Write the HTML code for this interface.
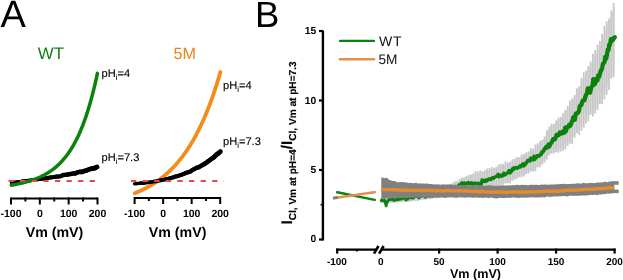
<!DOCTYPE html>
<html><head><meta charset="utf-8"><style>
html,body{margin:0;padding:0;background:#fff;}
svg{display:block;font-family:"Liberation Sans", sans-serif;text-rendering:geometricPrecision;}
.wrap{will-change:transform;}
</style></head><body><div class="wrap">
<svg width="623" height="280" viewBox="0 0 623 280">
<rect width="623" height="280" fill="#fff"/>
<text x="0.4" y="27.0" font-size="38" fill="#000">A</text>
<text x="37.7" y="59.3" font-size="16.9" fill="#117c1c">WT</text>
<text x="173.4" y="59.2" font-size="16.2" fill="#ea861c">5M</text>
<line x1="11" y1="198.5" x2="97.5" y2="198.5" stroke="#000" stroke-width="2"/>
<line x1="11.00" y1="197.5" x2="11.00" y2="204.5" stroke="#000" stroke-width="2"/>
<line x1="25.42" y1="197.5" x2="25.42" y2="201.5" stroke="#000" stroke-width="2"/>
<line x1="39.83" y1="197.5" x2="39.83" y2="204.5" stroke="#000" stroke-width="2"/>
<line x1="54.25" y1="197.5" x2="54.25" y2="201.5" stroke="#000" stroke-width="2"/>
<line x1="68.67" y1="197.5" x2="68.67" y2="204.5" stroke="#000" stroke-width="2"/>
<line x1="83.08" y1="197.5" x2="83.08" y2="201.5" stroke="#000" stroke-width="2"/>
<line x1="97.50" y1="197.5" x2="97.50" y2="204.5" stroke="#000" stroke-width="2"/>
<text x="11.00" y="217" font-size="10.5" font-weight="bold" text-anchor="middle" fill="#000">-100</text>
<text x="39.83" y="217" font-size="10.5" font-weight="bold" text-anchor="middle" fill="#000">0</text>
<text x="68.67" y="217" font-size="10.5" font-weight="bold" text-anchor="middle" fill="#000">100</text>
<text x="97.50" y="217" font-size="10.5" font-weight="bold" text-anchor="middle" fill="#000">200</text>
<line x1="134.6" y1="198.0" x2="220.2" y2="198.0" stroke="#000" stroke-width="2"/>
<line x1="134.60" y1="197.0" x2="134.60" y2="204.0" stroke="#000" stroke-width="2"/>
<line x1="148.87" y1="197.0" x2="148.87" y2="201.0" stroke="#000" stroke-width="2"/>
<line x1="163.13" y1="197.0" x2="163.13" y2="204.0" stroke="#000" stroke-width="2"/>
<line x1="177.40" y1="197.0" x2="177.40" y2="201.0" stroke="#000" stroke-width="2"/>
<line x1="191.67" y1="197.0" x2="191.67" y2="204.0" stroke="#000" stroke-width="2"/>
<line x1="205.93" y1="197.0" x2="205.93" y2="201.0" stroke="#000" stroke-width="2"/>
<line x1="220.20" y1="197.0" x2="220.20" y2="204.0" stroke="#000" stroke-width="2"/>
<text x="134.60" y="217" font-size="10.5" font-weight="bold" text-anchor="middle" fill="#000">-100</text>
<text x="163.13" y="217" font-size="10.5" font-weight="bold" text-anchor="middle" fill="#000">0</text>
<text x="191.67" y="217" font-size="10.5" font-weight="bold" text-anchor="middle" fill="#000">100</text>
<text x="220.20" y="217" font-size="10.5" font-weight="bold" text-anchor="middle" fill="#000">200</text>
<text x="54.5" y="237" font-size="14.2" font-weight="bold" text-anchor="middle" fill="#000">Vm (mV)</text>
<text x="177.6" y="237" font-size="14.2" font-weight="bold" text-anchor="middle" fill="#000">Vm (mV)</text>
<g fill="none" stroke="#000" stroke-linecap="round"><path d="M11.50,182.64 L13.64,182.43" stroke-width="3.42"/><path d="M13.64,182.43 L15.78,182.14" stroke-width="3.45"/><path d="M15.78,182.14 L17.91,181.74" stroke-width="3.49"/><path d="M17.91,181.74 L20.05,181.68" stroke-width="3.52"/><path d="M20.05,181.68 L22.19,181.38" stroke-width="3.56"/><path d="M22.19,181.38 L24.33,181.02" stroke-width="3.59"/><path d="M24.33,181.02 L26.46,180.88" stroke-width="3.63"/><path d="M26.46,180.88 L28.60,180.59" stroke-width="3.66"/><path d="M28.60,180.59 L30.74,180.32" stroke-width="3.70"/><path d="M30.74,180.32 L32.88,180.02" stroke-width="3.73"/><path d="M32.88,180.02 L35.01,179.81" stroke-width="3.77"/><path d="M35.01,179.81 L37.15,179.37" stroke-width="3.80"/><path d="M37.15,179.37 L39.29,179.16" stroke-width="3.84"/><path d="M39.29,179.16 L41.43,178.84" stroke-width="3.87"/><path d="M41.43,178.84 L43.56,178.70" stroke-width="3.91"/><path d="M43.56,178.70 L45.70,178.32" stroke-width="3.94"/><path d="M45.70,178.32 L47.84,177.96" stroke-width="3.98"/><path d="M47.84,177.96 L49.98,177.56" stroke-width="4.01"/><path d="M49.98,177.56 L52.11,177.32" stroke-width="4.05"/><path d="M52.11,177.32 L54.25,177.02" stroke-width="4.08"/><path d="M54.25,177.02 L56.39,176.62" stroke-width="4.12"/><path d="M56.39,176.62 L58.53,176.52" stroke-width="4.15"/><path d="M58.53,176.52 L60.66,176.10" stroke-width="4.19"/><path d="M60.66,176.10 L62.80,175.05" stroke-width="4.22"/><path d="M62.80,175.05 L64.94,174.79" stroke-width="4.26"/><path d="M64.94,174.79 L67.08,174.70" stroke-width="4.29"/><path d="M67.08,174.70 L69.21,174.22" stroke-width="4.33"/><path d="M69.21,174.22 L71.35,173.91" stroke-width="4.36"/><path d="M71.35,173.91 L73.49,173.46" stroke-width="4.40"/><path d="M73.49,173.46 L75.62,173.38" stroke-width="4.43"/><path d="M75.62,173.38 L77.76,172.23" stroke-width="4.47"/><path d="M77.76,172.23 L79.90,171.88" stroke-width="4.50"/><path d="M79.90,171.88 L82.04,171.89" stroke-width="4.54"/><path d="M82.04,171.89 L84.18,171.06" stroke-width="4.57"/><path d="M84.18,171.06 L86.31,170.51" stroke-width="4.61"/><path d="M86.31,170.51 L88.45,169.68" stroke-width="4.64"/><path d="M88.45,169.68 L90.59,168.82" stroke-width="4.68"/><path d="M90.59,168.82 L92.73,168.64" stroke-width="4.71"/><path d="M92.73,168.64 L94.86,168.01" stroke-width="4.75"/><path d="M94.86,168.01 L97.00,167.03" stroke-width="4.78"/></g>
<path d="M11.30,185.26 L11.87,185.15 L12.45,185.05 L13.02,184.94 L13.60,184.83 L14.17,184.72 L14.74,184.61 L15.32,184.50 L15.89,184.38 L16.46,184.27 L17.04,184.15 L17.61,184.03 L18.19,183.90 L18.76,183.78 L19.33,183.65 L19.91,183.52 L20.48,183.39 L21.06,183.26 L21.63,183.12 L22.20,182.98 L22.78,182.84 L23.35,182.70 L23.92,182.55 L24.50,182.40 L25.07,182.25 L25.65,182.09 L26.22,181.93 L26.79,181.77 L27.37,181.61 L27.94,181.44 L28.51,181.27 L29.09,181.10 L29.66,180.92 L30.24,180.74 L30.81,180.55 L31.38,180.36 L31.96,180.17 L32.53,179.97 L33.11,179.77 L33.68,179.57 L34.25,179.36 L34.83,179.14 L35.40,178.93 L35.97,178.70 L36.55,178.48 L37.12,178.24 L37.71,178.00 L38.29,177.76 L38.87,177.51 L39.45,177.26 L40.03,177.00 L40.62,176.74 L41.20,176.46 L41.78,176.19 L42.36,175.90 L42.94,175.61 L43.53,175.32 L44.11,175.01 L44.69,174.70 L45.27,174.38 L45.85,174.05 L46.43,173.72 L47.02,173.38 L47.60,173.03 L48.18,172.67 L48.76,172.30 L49.34,171.92 L49.93,171.54 L50.51,171.14 L51.09,170.74 L51.67,170.32 L52.25,169.90 L52.84,169.47 L53.42,169.02 L54.00,168.57 L54.58,168.10 L55.16,167.62 L55.74,167.13 L56.33,166.63 L56.91,166.12 L57.49,165.60 L58.07,165.06 L58.65,164.51 L59.24,163.95 L59.82,163.37 L60.40,162.78 L60.98,162.18 L61.56,161.56 L62.15,160.93 L62.73,160.28 L63.31,159.61 L63.89,158.93 L64.47,158.24 L65.05,157.52 L65.64,156.79 L66.22,156.05 L66.80,155.28 L67.38,154.50 L67.96,153.70 L68.55,152.87 L69.13,152.03 L69.71,151.17 L70.29,150.29 L70.87,149.39 L71.46,148.46 L72.04,147.51 L72.62,146.55 L73.20,145.55 L73.78,144.54 L74.36,143.50 L74.95,142.43 L75.53,141.34 L76.11,140.22 L76.69,139.08 L77.27,137.91 L77.86,136.71 L78.44,135.48 L79.02,134.22 L79.60,132.94 L80.18,131.62 L80.76,130.27 L81.33,128.89 L81.91,127.47 L82.48,126.02 L83.05,124.54 L83.63,123.02 L84.20,121.47 L84.78,119.87 L85.35,118.24 L85.92,116.57 L86.50,114.86 L87.07,113.11 L87.64,111.32 L88.22,109.49 L88.79,107.61 L89.37,105.69 L89.94,103.72 L90.51,101.70 L91.09,99.63 L91.66,97.52 L92.24,95.35 L92.81,93.14 L93.38,90.87 L93.96,88.54 L94.53,86.16 L95.10,83.73 L95.68,81.23 L96.25,78.68 L96.83,76.06 L97.40,73.38" fill="none" stroke="#0b820b" stroke-width="3.5" stroke-linecap="round"/>
<line x1="8.5" y1="180.9" x2="100" y2="180.9" stroke="#e84a4a" stroke-width="2" stroke-dasharray="5.3 6.3"/>
<path d="M134.80,193.17 L135.37,192.94 L135.95,192.71 L136.52,192.47 L137.10,192.24 L137.67,191.99 L138.25,191.75 L138.82,191.50 L139.40,191.25 L139.97,190.99 L140.54,190.73 L141.12,190.46 L141.69,190.20 L142.27,189.92 L142.84,189.65 L143.42,189.37 L143.99,189.08 L144.57,188.79 L145.14,188.50 L145.72,188.20 L146.29,187.90 L146.86,187.60 L147.44,187.29 L148.01,186.97 L148.59,186.65 L149.16,186.33 L149.74,186.00 L150.31,185.66 L150.89,185.32 L151.46,184.98 L152.03,184.63 L152.61,184.28 L153.18,183.92 L153.76,183.55 L154.33,183.19 L154.91,182.81 L155.48,182.43 L156.06,182.04 L156.63,181.65 L157.21,181.25 L157.78,180.85 L158.35,180.44 L158.93,180.02 L159.50,179.60 L160.08,179.18 L160.65,178.74 L161.23,178.30 L161.80,177.85 L162.38,177.40 L162.95,176.94 L163.52,176.47 L164.10,176.00 L164.67,175.52 L165.25,175.03 L165.82,174.54 L166.40,174.03 L166.97,173.52 L167.55,173.01 L168.12,172.48 L168.70,171.95 L169.27,171.41 L169.84,170.86 L170.42,170.31 L170.99,169.74 L171.57,169.17 L172.14,168.59 L172.72,168.00 L173.29,167.40 L173.87,166.79 L174.44,166.18 L175.01,165.55 L175.59,164.92 L176.16,164.27 L176.74,163.62 L177.31,162.96 L177.89,162.29 L178.46,161.61 L179.04,160.91 L179.61,160.21 L180.19,159.50 L180.76,158.78 L181.33,158.04 L181.91,157.30 L182.48,156.54 L183.06,155.78 L183.63,155.00 L184.21,154.21 L184.78,153.41 L185.36,152.60 L185.93,151.77 L186.50,150.93 L187.08,150.09 L187.65,149.22 L188.23,148.35 L188.80,147.46 L189.38,146.56 L189.95,145.65 L190.53,144.73 L191.10,143.79 L191.68,142.83 L192.25,141.86 L192.82,140.88 L193.40,139.89 L193.97,138.87 L194.55,137.85 L195.12,136.81 L195.70,135.75 L196.27,134.68 L196.85,133.59 L197.42,132.49 L197.99,131.37 L198.57,130.23 L199.14,129.08 L199.72,127.91 L200.29,126.72 L200.87,125.52 L201.44,124.30 L202.02,123.06 L202.59,121.80 L203.17,120.52 L203.74,119.23 L204.31,117.91 L204.89,116.58 L205.46,115.23 L206.04,113.85 L206.61,112.46 L207.19,111.05 L207.76,109.61 L208.34,108.16 L208.91,106.68 L209.48,105.18 L210.06,103.66 L210.63,102.12 L211.21,100.55 L211.78,98.96 L212.36,97.35 L212.93,95.71 L213.51,94.05 L214.08,92.37 L214.66,90.66 L215.23,88.93 L215.80,87.17 L216.38,85.38 L216.95,83.57 L217.53,81.73 L218.10,79.87 L218.68,77.98 L219.25,76.06 L219.83,74.11 L220.40,72.13" fill="none" stroke="#f48c1c" stroke-width="3.8" stroke-linecap="round"/>
<g fill="none" stroke="#000" stroke-linecap="round"><path d="M134.50,183.91 L136.65,183.66" stroke-width="3.32"/><path d="M136.65,183.66 L138.79,183.45" stroke-width="3.36"/><path d="M138.79,183.45 L140.94,183.05" stroke-width="3.39"/><path d="M140.94,183.05 L143.09,183.19" stroke-width="3.43"/><path d="M143.09,183.19 L145.24,182.88" stroke-width="3.47"/><path d="M145.24,182.88 L147.38,182.46" stroke-width="3.51"/><path d="M147.38,182.46 L149.53,182.29" stroke-width="3.54"/><path d="M149.53,182.29 L151.68,181.92" stroke-width="3.58"/><path d="M151.68,181.92 L153.83,181.49" stroke-width="3.62"/><path d="M153.83,181.49 L155.97,181.32" stroke-width="3.66"/><path d="M155.97,181.32 L158.12,180.78" stroke-width="3.69"/><path d="M158.12,180.78 L160.27,180.37" stroke-width="3.73"/><path d="M160.27,180.37 L162.42,179.88" stroke-width="3.77"/><path d="M162.42,179.88 L164.56,179.58" stroke-width="3.81"/><path d="M164.56,179.58 L166.71,179.01" stroke-width="3.84"/><path d="M166.71,179.01 L168.86,178.58" stroke-width="3.88"/><path d="M168.86,178.58 L171.01,177.86" stroke-width="3.92"/><path d="M171.01,177.86 L173.16,177.38" stroke-width="3.96"/><path d="M173.16,177.38 L175.30,176.60" stroke-width="3.99"/><path d="M175.30,176.60 L177.45,176.21" stroke-width="4.03"/><path d="M177.45,176.21 L179.60,175.40" stroke-width="4.07"/><path d="M179.60,175.40 L181.75,174.68" stroke-width="4.11"/><path d="M181.75,174.68 L183.89,173.91" stroke-width="4.14"/><path d="M183.89,173.91 L186.04,172.83" stroke-width="4.18"/><path d="M186.04,172.83 L188.19,172.27" stroke-width="4.22"/><path d="M188.19,172.27 L190.34,171.59" stroke-width="4.26"/><path d="M190.34,171.59 L192.48,169.91" stroke-width="4.29"/><path d="M192.48,169.91 L194.63,168.85" stroke-width="4.33"/><path d="M194.63,168.85 L196.78,167.79" stroke-width="4.37"/><path d="M196.78,167.79 L198.93,167.12" stroke-width="4.41"/><path d="M198.93,167.12 L201.07,165.76" stroke-width="4.44"/><path d="M201.07,165.76 L203.22,164.69" stroke-width="4.48"/><path d="M203.22,164.69 L205.37,163.27" stroke-width="4.52"/><path d="M205.37,163.27 L207.51,161.75" stroke-width="4.56"/><path d="M207.51,161.75 L209.66,160.27" stroke-width="4.59"/><path d="M209.66,160.27 L211.81,158.60" stroke-width="4.63"/><path d="M211.81,158.60 L213.96,157.20" stroke-width="4.67"/><path d="M213.96,157.20 L216.11,154.99" stroke-width="4.71"/><path d="M216.11,154.99 L218.25,153.33" stroke-width="4.74"/><path d="M218.25,153.33 L220.40,151.58" stroke-width="4.78"/></g>
<line x1="131" y1="181.0" x2="224" y2="181.0" stroke="#e84a4a" stroke-width="2" stroke-dasharray="5.3 6.3"/>
<text x="101.6" y="76.8" font-size="11.1" fill="#000" stroke="#000" stroke-width="0.12">pH<tspan font-size="7.6" dy="3.0">i</tspan><tspan dy="-3.0">=4</tspan></text>
<text x="101.6" y="160.8" font-size="11.1" fill="#000" stroke="#000" stroke-width="0.12">pH<tspan font-size="7.6" dy="3.0">i</tspan><tspan dy="-3.0">=7.3</tspan></text>
<text x="223.1" y="89.0" font-size="11.1" fill="#000" stroke="#000" stroke-width="0.12">pH<tspan font-size="7.6" dy="3.0">i</tspan><tspan dy="-3.0">=4</tspan></text>
<text x="223.1" y="145.0" font-size="11.1" fill="#000" stroke="#000" stroke-width="0.12">pH<tspan font-size="7.6" dy="3.0">i</tspan><tspan dy="-3.0">=7.3</tspan></text>
<text x="255" y="26.9" font-size="36.5" fill="#000">B</text>
<line x1="322.9" y1="30.5" x2="322.9" y2="240.5" stroke="#000" stroke-width="2.4"/>
<line x1="319" y1="239.50" x2="322.9" y2="239.50" stroke="#000" stroke-width="2.2"/>
<text x="316.3" y="242.10" font-size="10.3" font-weight="bold" text-anchor="end" fill="#000">0</text>
<line x1="319" y1="170.00" x2="322.9" y2="170.00" stroke="#000" stroke-width="2.2"/>
<text x="316.3" y="173.20" font-size="10.3" font-weight="bold" text-anchor="end" fill="#000">5</text>
<line x1="319" y1="100.50" x2="322.9" y2="100.50" stroke="#000" stroke-width="2.2"/>
<text x="316.3" y="104.10" font-size="10.3" font-weight="bold" text-anchor="end" fill="#000">10</text>
<line x1="319" y1="31.00" x2="322.9" y2="31.00" stroke="#000" stroke-width="2.2"/>
<text x="316.3" y="34.20" font-size="10.3" font-weight="bold" text-anchor="end" fill="#000">15</text>
<g transform="translate(292.3,224.6) rotate(-90)"><text x="0" y="0" font-weight="bold" fill="#000" stroke="#000" stroke-width="0.15" font-size="15.4">I<tspan font-size="10.1" dy="3.2">Cl, Vm at pH=4</tspan><tspan font-size="15.4" dy="-3.2">/I</tspan><tspan font-size="10.1" dy="3.2">Cl, Vm at pH=7.3</tspan></text></g>
<line x1="336.1" y1="249.6" x2="376" y2="249.6" stroke="#000" stroke-width="2.4"/>
<line x1="381" y1="249.6" x2="615.6" y2="249.6" stroke="#000" stroke-width="2.4"/>
<line x1="337.2" y1="248.6" x2="337.2" y2="253.6" stroke="#000" stroke-width="2.2"/>
<line x1="356.8" y1="249.6" x2="356.8" y2="251.5" stroke="#000" stroke-width="2"/>
<line x1="439.10" y1="248.6" x2="439.10" y2="253.6" stroke="#000" stroke-width="2.2"/>
<line x1="497.60" y1="248.6" x2="497.60" y2="253.6" stroke="#000" stroke-width="2.2"/>
<line x1="556.10" y1="248.6" x2="556.10" y2="253.6" stroke="#000" stroke-width="2.2"/>
<line x1="614.60" y1="248.6" x2="614.60" y2="253.6" stroke="#000" stroke-width="2.2"/>
<line x1="374.0" y1="253.6" x2="378.5" y2="246.0" stroke="#000" stroke-width="2.6"/>
<line x1="379.1" y1="253.6" x2="383.6" y2="246.0" stroke="#000" stroke-width="2.6"/>
<text x="336.9" y="264.5" font-size="10" font-weight="bold" text-anchor="middle" fill="#000">-100</text>
<text x="380.8" y="264.5" font-size="10" font-weight="bold" text-anchor="middle" fill="#000">0</text>
<text x="439" y="264.5" font-size="10" font-weight="bold" text-anchor="middle" fill="#000">50</text>
<text x="497.5" y="264.5" font-size="10" font-weight="bold" text-anchor="middle" fill="#000">100</text>
<text x="556" y="264.5" font-size="10" font-weight="bold" text-anchor="middle" fill="#000">150</text>
<text x="614.5" y="264.5" font-size="10" font-weight="bold" text-anchor="middle" fill="#000">200</text>
<text x="475.5" y="277.5" font-size="12.6" font-weight="bold" text-anchor="middle" fill="#000">Vm (mV)</text>
<polygon points="381.30,197.74 382.10,197.70 382.90,197.66 383.70,197.62 384.50,197.58 385.30,197.53 386.10,197.48 386.90,197.42 387.70,197.36 388.50,197.30 389.30,197.24 390.10,197.18 390.90,197.11 391.70,197.04 392.50,196.97 393.30,196.89 394.10,196.82 394.90,196.74 395.70,196.66 396.50,196.58 397.30,196.49 398.10,196.41 398.90,196.32 399.70,196.23 400.50,196.14 401.30,196.05 402.10,195.95 402.90,195.85 403.70,195.75 404.50,195.64 405.30,195.54 406.10,195.42 406.90,195.31 407.70,195.19 408.50,195.08 409.30,194.95 410.10,194.83 410.90,194.70 411.70,194.57 412.50,194.44 413.30,194.31 414.10,194.17 414.90,194.03 415.70,193.89 416.50,193.75 417.30,193.60 418.10,193.46 418.90,193.31 419.70,193.16 420.50,193.00 421.30,192.84 422.10,192.68 422.90,192.51 423.70,192.33 424.50,192.15 425.30,191.97 426.10,191.78 426.90,191.58 427.70,191.38 428.50,191.18 429.30,190.97 430.10,190.76 430.90,190.54 431.70,190.32 432.50,190.10 433.30,189.87 434.10,189.64 434.90,189.40 435.70,189.17 436.50,188.92 437.30,188.68 438.10,188.43 438.90,188.19 439.70,187.93 440.50,187.68 441.30,187.42 442.10,187.17 442.90,186.91 443.70,186.65 444.50,186.38 445.30,186.12 446.10,185.85 446.90,185.58 447.70,185.30 448.50,185.02 449.30,184.74 450.10,184.45 450.90,184.16 451.70,183.86 452.50,183.55 453.30,183.24 454.10,182.92 454.90,182.59 455.70,182.26 456.50,181.92 457.30,181.57 458.10,181.19 458.90,180.77 459.70,180.34 460.50,179.89 461.30,179.43 462.10,178.98 462.90,178.54 463.70,178.12 464.50,177.71 465.30,177.33 466.10,176.98 466.90,176.66 467.70,176.34 468.50,176.04 469.30,175.74 470.10,175.44 470.90,175.16 471.70,174.88 472.50,174.62 473.30,174.36 474.10,174.10 474.90,173.86 475.70,173.62 476.50,173.39 477.30,173.17 478.10,172.95 478.90,172.75 479.70,172.55 480.50,172.35 481.30,172.16 482.10,171.95 482.90,171.75 483.70,171.54 484.50,171.32 485.30,171.11 486.10,170.88 486.90,170.66 487.70,170.43 488.50,170.20 489.30,169.96 490.10,169.72 490.90,169.47 491.70,169.23 492.50,168.98 493.30,168.72 494.10,168.46 494.90,168.20 495.70,167.93 496.50,167.67 497.30,167.39 498.10,167.12 498.90,166.84 499.70,166.56 500.50,166.27 501.30,165.98 502.10,165.68 502.90,165.37 503.70,165.05 504.50,164.73 505.30,164.40 506.10,164.07 506.90,163.73 507.70,163.38 508.50,163.02 509.30,162.66 510.10,162.29 510.90,161.92 511.70,161.54 512.50,161.15 513.30,160.76 514.10,160.36 514.90,159.96 515.70,159.56 516.50,159.14 517.30,158.72 518.10,158.30 518.90,157.88 519.70,157.44 520.50,157.01 521.30,156.57 522.10,156.14 522.90,155.70 523.70,155.26 524.50,154.82 525.30,154.37 526.10,153.91 526.90,153.45 527.70,152.97 528.50,152.49 529.30,152.00 530.10,151.49 530.90,150.97 531.70,150.43 532.50,149.88 533.30,149.31 534.10,148.72 534.90,148.11 535.70,147.48 536.50,146.83 537.30,146.15 538.10,145.45 538.90,144.72 539.70,143.97 540.50,143.15 541.30,142.19 542.10,141.08 542.90,139.87 543.70,138.57 544.50,137.22 545.30,135.84 546.10,134.46 546.90,133.10 547.70,131.80 548.50,130.57 549.30,129.46 550.10,128.48 550.90,127.61 551.70,126.79 552.50,126.03 553.30,125.31 554.10,124.62 554.90,123.95 555.70,123.28 556.50,122.59 557.30,121.87 558.10,121.11 558.90,120.30 559.70,119.43 560.50,118.48 561.30,117.49 562.10,116.45 562.90,115.38 563.70,114.26 564.50,113.11 565.30,111.92 566.10,110.70 566.90,109.45 567.70,108.17 568.50,106.86 569.30,105.52 570.10,104.17 570.90,102.79 571.70,101.39 572.50,99.98 573.30,98.55 574.10,97.11 574.90,95.65 575.70,94.19 576.50,92.72 577.30,91.24 578.10,89.76 578.90,88.27 579.70,86.78 580.50,85.28 581.30,83.74 582.10,82.09 582.90,80.36 583.70,78.59 584.50,76.81 585.30,75.05 586.10,73.36 586.90,71.75 587.70,70.21 588.50,68.73 589.30,67.29 590.10,65.87 590.90,64.46 591.70,63.04 592.50,61.59 593.30,60.12 594.10,58.61 594.90,57.07 595.70,55.48 596.50,53.85 597.30,52.15 598.10,50.40 598.90,48.58 599.70,46.68 600.50,44.59 601.30,42.05 602.10,39.42 602.90,37.07 603.70,34.79 604.50,32.54 605.30,30.31 606.10,28.12 606.90,25.96 607.70,23.84 608.50,21.76 609.30,19.72 610.10,17.73 610.90,15.79 611.70,13.90 612.50,12.07 613.30,10.30 614.10,8.59 614.90,6.95 614.90,69.83 614.10,71.28 613.30,72.77 612.50,74.30 611.70,75.87 610.90,77.47 610.10,79.10 609.30,80.76 608.50,82.45 607.70,84.16 606.90,85.90 606.10,87.66 605.30,89.44 604.50,91.23 603.70,93.05 602.90,94.87 602.10,96.77 601.30,98.92 600.50,100.99 599.70,102.59 598.90,103.94 598.10,105.14 597.30,106.23 596.50,107.21 595.70,108.10 594.90,108.93 594.10,109.71 593.30,110.46 592.50,111.20 591.70,111.95 590.90,112.72 590.10,113.54 589.30,114.41 588.50,115.33 587.70,116.31 586.90,117.36 586.10,118.49 585.30,119.73 584.50,121.04 583.70,122.38 582.90,123.72 582.10,125.02 581.30,126.25 580.50,127.37 579.70,128.45 578.90,129.52 578.10,130.58 577.30,131.63 576.50,132.67 575.70,133.69 574.90,134.69 574.10,135.68 573.30,136.64 572.50,137.59 571.70,138.51 570.90,139.41 570.10,140.28 569.30,141.13 568.50,141.96 567.70,142.76 566.90,143.53 566.10,144.27 565.30,144.99 564.50,145.67 563.70,146.33 562.90,146.95 562.10,147.54 561.30,148.09 560.50,148.61 559.70,149.10 558.90,149.52 558.10,149.89 557.30,150.22 556.50,150.53 555.70,150.81 554.90,151.10 554.10,151.39 553.30,151.70 552.50,152.03 551.70,152.41 550.90,152.84 550.10,153.34 549.30,153.94 548.50,154.69 547.70,155.56 546.90,156.52 546.10,157.54 545.30,158.61 544.50,159.70 543.70,160.78 542.90,161.82 542.10,162.81 541.30,163.71 540.50,164.50 539.70,165.16 538.90,165.78 538.10,166.37 537.30,166.95 536.50,167.50 535.70,168.03 534.90,168.55 534.10,169.05 533.30,169.53 532.50,170.00 531.70,170.45 530.90,170.89 530.10,171.32 529.30,171.75 528.50,172.16 527.70,172.57 526.90,172.96 526.10,173.36 525.30,173.75 524.50,174.14 523.70,174.52 522.90,174.91 522.10,175.29 521.30,175.68 520.50,176.07 519.70,176.47 518.90,176.86 518.10,177.25 517.30,177.64 516.50,178.03 515.70,178.41 514.90,178.79 514.10,179.16 513.30,179.54 512.50,179.90 511.70,180.27 510.90,180.63 510.10,180.98 509.30,181.33 508.50,181.67 507.70,182.01 506.90,182.34 506.10,182.67 505.30,182.99 504.50,183.31 503.70,183.62 502.90,183.92 502.10,184.21 501.30,184.50 500.50,184.78 499.70,185.05 498.90,185.32 498.10,185.58 497.30,185.84 496.50,186.10 495.70,186.36 494.90,186.60 494.10,186.85 493.30,187.09 492.50,187.33 491.70,187.56 490.90,187.78 490.10,188.01 489.30,188.22 488.50,188.43 487.70,188.64 486.90,188.84 486.10,189.04 485.30,189.23 484.50,189.41 483.70,189.59 482.90,189.76 482.10,189.92 481.30,190.08 480.50,190.23 479.70,190.38 478.90,190.49 478.10,190.57 477.30,190.63 476.50,190.66 475.70,190.67 474.90,190.67 474.10,190.65 473.30,190.62 472.50,190.59 471.70,190.56 470.90,190.52 470.10,190.50 469.30,190.48 468.50,190.47 467.70,190.48 466.90,190.51 466.10,190.57 465.30,190.66 464.50,190.81 463.70,191.02 462.90,191.27 462.10,191.55 461.30,191.84 460.50,192.14 459.70,192.44 458.90,192.72 458.10,192.98 457.30,193.22 456.50,193.42 455.70,193.62 454.90,193.80 454.10,193.99 453.30,194.16 452.50,194.34 451.70,194.50 450.90,194.67 450.10,194.83 449.30,194.99 448.50,195.14 447.70,195.29 446.90,195.44 446.10,195.58 445.30,195.73 444.50,195.87 443.70,196.02 442.90,196.16 442.10,196.30 441.30,196.45 440.50,196.59 439.70,196.74 438.90,196.88 438.10,197.03 437.30,197.17 436.50,197.31 435.70,197.45 434.90,197.59 434.10,197.73 433.30,197.87 432.50,198.01 431.70,198.15 430.90,198.28 430.10,198.41 429.30,198.55 428.50,198.67 427.70,198.80 426.90,198.93 426.10,199.05 425.30,199.17 424.50,199.29 423.70,199.40 422.90,199.52 422.10,199.63 421.30,199.73 420.50,199.84 419.70,199.94 418.90,200.04 418.10,200.13 417.30,200.23 416.50,200.32 415.70,200.41 414.90,200.50 414.10,200.59 413.30,200.67 412.50,200.76 411.70,200.84 410.90,200.92 410.10,200.99 409.30,201.07 408.50,201.14 407.70,201.21 406.90,201.28 406.10,201.35 405.30,201.42 404.50,201.48 403.70,201.54 402.90,201.60 402.10,201.66 401.30,201.72 400.50,201.77 399.70,201.82 398.90,201.87 398.10,201.92 397.30,201.97 396.50,202.02 395.70,202.07 394.90,202.12 394.10,202.17 393.30,202.22 392.50,202.27 391.70,202.31 390.90,202.36 390.10,202.40 389.30,202.45 388.50,202.49 387.70,202.53 386.90,202.58 386.10,202.62 385.30,202.66 384.50,202.70 383.70,202.73 382.90,202.77 382.10,202.80 381.30,202.84" fill="#e4e4e4"/>
<path d="M381.30,197.55V203.29 M383.60,197.10V202.85 M385.90,197.29V203.39 M388.20,197.18V202.69 M390.50,196.35V202.93 M392.80,196.57V202.73 M395.10,196.12V202.42 M397.40,196.28V202.68 M399.70,195.60V202.32 M402.00,195.20V202.21 M404.30,194.76V201.77 M406.60,194.78V201.82 M408.90,194.60V201.72 M411.20,194.34V201.70 M413.50,193.38V200.88 M415.80,193.33V200.77 M418.10,193.26V201.09 M420.40,192.49V200.11 M422.70,191.76V199.87 M425.00,191.00V199.56 M427.30,191.32V199.20 M429.60,190.39V199.13 M431.90,189.12V199.02 M434.20,189.08V197.88 M436.50,188.59V198.64 M438.80,187.50V197.90 M441.10,187.26V196.69 M443.40,185.47V197.01 M445.70,185.39V196.26 M448.00,184.90V195.66 M450.30,184.16V196.21 M452.60,182.61V194.70 M454.90,181.23V194.31 M457.20,181.31V194.43 M459.50,178.71V192.77 M461.80,177.50V192.22 M464.10,177.51V191.17 M466.40,176.05V192.19 M468.70,174.69V192.48 M471.00,174.38V191.49 M473.30,173.48V193.16 M475.60,171.09V191.79 M477.90,171.62V191.68 M480.20,170.23V190.70 M482.50,171.36V191.18 M484.80,170.30V191.82 M487.10,168.38V190.51 M489.40,167.90V190.30 M491.70,166.88V190.28 M494.00,167.78V188.83 M496.30,167.03V187.64 M498.60,164.57V188.08 M500.90,163.81V185.06 M503.20,163.98V184.56 M505.50,161.37V183.62 M507.80,162.36V183.24 M510.10,161.80V183.61 M512.40,159.19V180.70 M514.70,158.41V179.42 M517.00,156.92V178.74 M519.30,157.22V177.31 M521.60,154.57V177.59 M523.90,153.93V176.52 M526.20,152.54V174.01 M528.50,151.27V173.60 M530.80,148.12V171.62 M533.10,148.85V171.60 M535.40,144.57V171.22 M537.70,143.37V167.23 M540.00,140.88V167.35 M542.30,139.96V164.38 M544.60,136.49V162.51 M546.90,130.31V159.59 M549.20,126.54V155.38 M551.50,123.69V153.86 M553.80,123.89V153.44 M556.10,120.50V152.28 M558.40,117.83V152.73 M560.70,116.68V151.68 M563.00,113.08V150.71 M565.30,109.98V149.30 M567.60,105.69V146.16 M569.90,100.45V143.77 M572.20,98.49V143.77 M574.50,95.17V137.65 M576.80,88.35V133.15 M579.10,86.26V134.65 M581.40,78.08V130.68 M583.70,72.24V127.82 M586.00,70.87V123.54 M588.30,66.04V121.31 M590.60,61.54V114.91 M592.90,53.79V116.59 M595.20,50.08V113.67 M597.50,44.77V110.35 M599.80,40.98V103.90 M602.10,33.92V104.37 M604.40,25.94V99.14 M606.70,21.25V94.84 M609.00,18.47V89.99 M611.30,10.51V78.55 M613.60,3.08V77.33" stroke="#c8c8c8" stroke-width="1.8" fill="none"/>
<g fill="none" stroke="#0b820b" stroke-linejoin="round" stroke-linecap="round"><path d="M381.30,200.59 L382.10,199.85 L382.90,200.81 L383.70,200.98 L384.50,200.35 L385.30,202.29" stroke-width="2.80"/><path d="M385.30,202.29 L386.10,205.95 L386.90,203.10 L387.70,200.79 L388.50,199.80 L389.30,199.82" stroke-width="2.80"/><path d="M389.30,199.82 L390.10,198.66 L390.90,199.74 L391.70,199.10 L392.50,198.50 L393.30,199.55" stroke-width="2.80"/><path d="M393.30,199.55 L394.10,200.51 L394.90,200.09 L395.70,199.54 L396.50,200.01 L397.30,199.23" stroke-width="2.80"/><path d="M397.30,199.23 L398.10,199.48 L398.90,199.48 L399.70,198.29 L400.50,199.15 L401.30,198.86" stroke-width="2.81"/><path d="M401.30,198.86 L402.10,198.65 L402.90,198.06 L403.70,197.47 L404.50,197.94 L405.30,199.30" stroke-width="2.82"/><path d="M405.30,199.30 L406.10,200.02 L406.90,199.19 L407.70,199.11 L408.50,197.94 L409.30,196.75" stroke-width="2.82"/><path d="M409.30,196.75 L410.10,197.52 L410.90,198.02 L411.70,197.48 L412.50,197.79 L413.30,198.00" stroke-width="2.83"/><path d="M413.30,198.00 L414.10,196.72 L414.90,195.95 L415.70,196.30 L416.50,196.43 L417.30,196.40" stroke-width="2.84"/><path d="M417.30,196.40 L418.10,197.29 L418.90,197.98 L419.70,196.10 L420.50,196.45 L421.30,196.55" stroke-width="2.86"/><path d="M421.30,196.55 L422.10,195.84 L422.90,195.78 L423.70,195.23 L424.50,196.18 L425.30,197.17" stroke-width="2.87"/><path d="M425.30,197.17 L426.10,196.27 L426.90,195.15 L427.70,196.08 L428.50,196.11 L429.30,195.49" stroke-width="2.88"/><path d="M429.30,195.49 L430.10,195.18 L430.90,196.05 L431.70,193.90 L432.50,194.73 L433.30,194.42" stroke-width="2.90"/><path d="M433.30,194.42 L434.10,193.64 L434.90,194.91 L435.70,194.33 L436.50,192.55 L437.30,193.11" stroke-width="2.92"/><path d="M437.30,193.11 L438.10,192.36 L438.90,190.92 L439.70,191.01 L440.50,191.04 L441.30,190.85" stroke-width="2.94"/><path d="M441.30,190.85 L442.10,190.44 L442.90,189.91 L443.70,190.23 L444.50,190.37 L445.30,191.05" stroke-width="2.96"/><path d="M445.30,191.05 L446.10,190.74 L446.90,190.74 L447.70,190.25 L448.50,188.96 L449.30,188.63" stroke-width="2.98"/><path d="M449.30,188.63 L450.10,190.21 L450.90,188.81 L451.70,188.77 L452.50,189.19 L453.30,187.62" stroke-width="3.00"/><path d="M453.30,187.62 L454.10,188.25 L454.90,188.02 L455.70,188.04 L456.50,186.95 L457.30,187.85" stroke-width="3.03"/><path d="M457.30,187.85 L458.10,186.46 L458.90,184.78 L459.70,185.60 L460.50,184.47 L461.30,183.50" stroke-width="3.06"/><path d="M461.30,183.50 L462.10,182.63 L462.90,184.43 L463.70,186.12 L464.50,182.90 L465.30,183.83" stroke-width="3.09"/><path d="M465.30,183.83 L466.10,183.07 L466.90,183.53 L467.70,182.67 L468.50,182.40 L469.30,183.62" stroke-width="3.12"/><path d="M469.30,183.62 L470.10,183.26 L470.90,183.67 L471.70,182.62 L472.50,183.90 L473.30,185.19" stroke-width="3.13"/><path d="M473.30,185.19 L474.10,183.16 L474.90,182.85 L475.70,183.15 L476.50,183.56 L477.30,184.00" stroke-width="3.14"/><path d="M477.30,184.00 L478.10,183.35 L478.90,183.07 L479.70,183.95 L480.50,185.66 L481.30,183.67" stroke-width="3.16"/><path d="M481.30,183.67 L482.10,179.77 L482.90,181.87 L483.70,180.64 L484.50,181.51 L485.30,180.21" stroke-width="3.17"/><path d="M485.30,180.21 L486.10,181.42 L486.90,179.93 L487.70,180.44 L488.50,179.24 L489.30,178.82" stroke-width="3.20"/><path d="M489.30,178.82 L490.10,178.81 L490.90,179.84 L491.70,178.39 L492.50,177.53 L493.30,178.42" stroke-width="3.22"/><path d="M493.30,178.42 L494.10,177.65 L494.90,177.42 L495.70,176.42 L496.50,176.44 L497.30,175.96" stroke-width="3.24"/><path d="M497.30,175.96 L498.10,174.30 L498.90,176.84 L499.70,175.93 L500.50,175.08 L501.30,175.94" stroke-width="3.27"/><path d="M501.30,175.94 L502.10,176.23 L502.90,175.56 L503.70,173.15 L504.50,175.16 L505.30,174.34" stroke-width="3.30"/><path d="M505.30,174.34 L506.10,174.02 L506.90,173.37 L507.70,172.76 L508.50,171.64 L509.30,170.63" stroke-width="3.33"/><path d="M509.30,170.63 L510.10,172.99 L510.90,172.01 L511.70,171.14 L512.50,168.83 L513.30,169.38" stroke-width="3.36"/><path d="M513.30,169.38 L514.10,167.79 L514.90,168.41 L515.70,167.97 L516.50,167.53 L517.30,167.90" stroke-width="3.40"/><path d="M517.30,167.90 L518.10,167.81 L518.90,167.36 L519.70,166.15 L520.50,166.88 L521.30,165.73" stroke-width="3.44"/><path d="M521.30,165.73 L522.10,164.95 L522.90,163.93 L523.70,165.98 L524.50,164.09 L525.30,164.41" stroke-width="3.48"/><path d="M525.30,164.41 L526.10,163.07 L526.90,162.02 L527.70,160.51 L528.50,160.83 L529.30,160.44" stroke-width="3.53"/><path d="M529.30,160.44 L530.10,160.81 L530.90,158.13 L531.70,159.30 L532.50,159.13 L533.30,159.58" stroke-width="3.57"/><path d="M533.30,159.58 L534.10,156.37 L534.90,159.26 L535.70,157.65 L536.50,157.42 L537.30,155.98" stroke-width="3.62"/><path d="M537.30,155.98 L538.10,155.76 L538.90,156.09 L539.70,155.21 L540.50,154.74 L541.30,153.84" stroke-width="3.69"/><path d="M541.30,153.84 L542.10,151.92 L542.90,151.96 L543.70,150.50 L544.50,149.12 L545.30,148.29" stroke-width="3.77"/><path d="M545.30,148.29 L546.10,146.84 L546.90,148.01 L547.70,146.11 L548.50,144.22 L549.30,146.43" stroke-width="3.89"/><path d="M549.30,146.43 L550.10,144.86 L550.90,143.50 L551.70,142.43 L552.50,140.32 L553.30,139.01" stroke-width="3.99"/><path d="M553.30,139.01 L554.10,138.78 L554.90,139.43 L555.70,137.47 L556.50,134.87 L557.30,135.54" stroke-width="4.04"/><path d="M557.30,135.54 L558.10,134.30 L558.90,134.93 L559.70,132.41 L560.50,133.03 L561.30,133.35" stroke-width="4.09"/><path d="M561.30,133.35 L562.10,133.29 L562.90,131.43 L563.70,132.98 L564.50,132.56 L565.30,127.69" stroke-width="4.17"/><path d="M565.30,127.69 L566.10,130.92 L566.90,127.56 L567.70,126.63 L568.50,126.64 L569.30,124.82" stroke-width="4.20"/><path d="M569.30,124.82 L570.10,125.94 L570.90,124.69 L571.70,121.87 L572.50,120.60 L573.30,117.44" stroke-width="4.20"/><path d="M573.30,117.44 L574.10,118.93 L574.90,119.79 L575.70,113.52 L576.50,113.79 L577.30,113.02" stroke-width="4.20"/><path d="M577.30,113.02 L578.10,112.66 L578.90,111.29 L579.70,106.41 L580.50,105.49 L581.30,104.98" stroke-width="4.20"/><path d="M581.30,104.98 L582.10,102.20 L582.90,100.33 L583.70,100.21 L584.50,100.30 L585.30,97.20" stroke-width="4.20"/><path d="M585.30,97.20 L586.10,94.56 L586.90,93.57 L587.70,88.49 L588.50,91.00 L589.30,88.49" stroke-width="4.20"/><path d="M589.30,88.49 L590.10,92.71 L590.90,88.90 L591.70,86.78 L592.50,85.47 L593.30,79.24" stroke-width="4.20"/><path d="M593.30,79.24 L594.10,84.68 L594.90,84.26 L595.70,79.03 L596.50,81.34 L597.30,80.30" stroke-width="4.20"/><path d="M597.30,80.30 L598.10,75.36 L598.90,77.21 L599.70,74.82 L600.50,71.54 L601.30,70.08" stroke-width="4.20"/><path d="M601.30,70.08 L602.10,68.23 L602.90,63.70 L603.70,63.21 L604.50,62.15 L605.30,56.86" stroke-width="4.20"/><path d="M605.30,56.86 L606.10,58.82 L606.90,55.20 L607.70,49.53 L608.50,50.10 L609.30,44.82" stroke-width="4.20"/><path d="M609.30,44.82 L610.10,44.35 L610.90,39.09 L611.70,41.14 L612.50,38.87 L613.30,39.37" stroke-width="4.20"/><path d="M613.30,39.37 L614.10,37.79 L614.90,37.25" stroke-width="4.20"/></g>
<polygon points="381.30,177.70 382.30,177.56 383.30,177.87 384.30,178.26 385.30,178.06 386.30,177.87 387.30,178.07 388.30,179.04 389.30,179.93 390.30,180.16 391.30,180.49 392.30,181.00 393.30,181.07 394.30,181.08 395.30,181.26 396.30,181.75 397.30,182.29 398.30,182.26 399.30,182.13 400.30,182.20 401.30,182.04 402.30,182.09 403.30,182.27 404.30,182.15 405.30,182.30 406.30,182.50 407.30,182.73 408.30,182.92 409.30,182.95 410.30,182.80 411.30,182.91 412.30,183.07 413.30,183.18 414.30,183.13 415.30,182.69 416.30,182.79 417.30,183.46 418.30,183.62 419.30,183.37 420.30,183.47 421.30,183.60 422.30,183.59 423.30,183.51 424.30,183.51 425.30,183.65 426.30,183.61 427.30,183.49 428.30,183.64 429.30,183.94 430.30,184.06 431.30,184.04 432.30,184.07 433.30,184.38 434.30,184.40 435.30,184.25 436.30,184.51 437.30,184.43 438.30,184.26 439.30,184.43 440.30,184.65 441.30,184.61 442.30,184.48 443.30,184.50 444.30,184.34 445.30,184.51 446.30,184.67 447.30,184.35 448.30,184.40 449.30,184.44 450.30,184.37 451.30,184.62 452.30,184.66 453.30,184.82 454.30,184.79 455.30,184.71 456.30,185.00 457.30,185.17 458.30,185.24 459.30,185.11 460.30,185.03 461.30,185.01 462.30,185.16 463.30,185.11 464.30,185.05 465.30,185.14 466.30,185.12 467.30,185.12 468.30,185.38 469.30,185.35 470.30,185.13 471.30,185.26 472.30,185.33 473.30,185.36 474.30,185.36 475.30,185.44 476.30,185.22 477.30,185.11 478.30,185.16 479.30,185.20 480.30,185.23 481.30,185.09 482.30,185.25 483.30,185.55 484.30,185.65 485.30,185.52 486.30,185.63 487.30,185.49 488.30,185.06 489.30,185.14 490.30,185.37 491.30,185.59 492.30,185.90 493.30,185.58 494.30,185.63 495.30,186.00 496.30,185.80 497.30,185.65 498.30,185.85 499.30,185.82 500.30,185.45 501.30,185.46 502.30,185.34 503.30,185.37 504.30,185.52 505.30,185.48 506.30,185.52 507.30,185.33 508.30,185.43 509.30,185.41 510.30,185.33 511.30,185.24 512.30,185.14 513.30,185.21 514.30,185.15 515.30,185.14 516.30,184.84 517.30,184.75 518.30,185.01 519.30,185.21 520.30,184.99 521.30,184.63 522.30,184.68 523.30,184.90 524.30,184.91 525.30,184.81 526.30,184.98 527.30,185.18 528.30,185.14 529.30,184.88 530.30,184.78 531.30,184.85 532.30,184.64 533.30,184.75 534.30,184.92 535.30,184.73 536.30,184.87 537.30,185.01 538.30,184.92 539.30,184.95 540.30,184.91 541.30,184.58 542.30,184.42 543.30,184.68 544.30,184.60 545.30,184.46 546.30,184.58 547.30,184.73 548.30,184.82 549.30,184.73 550.30,184.52 551.30,184.49 552.30,184.56 553.30,184.40 554.30,184.47 555.30,184.53 556.30,184.23 557.30,184.30 558.30,184.34 559.30,184.23 560.30,184.04 561.30,183.94 562.30,183.98 563.30,183.83 564.30,183.68 565.30,184.04 566.30,184.23 567.30,183.97 568.30,184.09 569.30,184.02 570.30,183.91 571.30,183.72 572.30,183.65 573.30,183.74 574.30,183.74 575.30,183.78 576.30,183.51 577.30,183.22 578.30,183.23 579.30,183.52 580.30,183.66 581.30,183.58 582.30,183.24 583.30,182.81 584.30,182.94 585.30,183.19 586.30,183.15 587.30,183.20 588.30,183.20 589.30,182.96 590.30,182.83 591.30,182.94 592.30,183.01 593.30,182.93 594.30,183.15 595.30,183.06 596.30,182.73 597.30,182.57 598.30,182.45 599.30,182.57 600.30,182.61 601.30,182.45 602.30,182.36 603.30,182.31 604.30,181.95 605.30,181.45 606.30,181.89 607.30,182.32 608.30,181.94 609.30,181.54 610.30,181.30 611.30,181.60 612.30,181.32 613.30,181.03 614.30,181.39 614.30,192.85 613.30,193.19 612.30,193.42 611.30,193.52 610.30,193.53 609.30,193.60 608.30,193.66 607.30,193.56 606.30,193.79 605.30,194.15 604.30,194.03 603.30,194.04 602.30,194.38 601.30,194.53 600.30,194.52 599.30,194.47 598.30,194.77 597.30,195.18 596.30,195.12 595.30,194.66 594.30,194.62 593.30,195.08 592.30,195.03 591.30,194.87 590.30,194.93 589.30,195.17 588.30,195.21 587.30,195.15 586.30,195.45 585.30,195.58 584.30,195.48 583.30,195.60 582.30,195.61 581.30,195.60 580.30,195.79 579.30,195.82 578.30,195.80 577.30,195.64 576.30,195.69 575.30,195.69 574.30,195.77 573.30,195.96 572.30,195.65 571.30,195.59 570.30,195.86 569.30,195.95 568.30,196.00 567.30,196.42 566.30,196.38 565.30,196.07 564.30,196.10 563.30,196.03 562.30,196.16 561.30,196.25 560.30,196.31 559.30,196.24 558.30,196.39 557.30,196.39 556.30,196.38 555.30,196.60 554.30,196.51 553.30,196.54 552.30,196.67 551.30,196.81 550.30,196.93 549.30,196.87 548.30,196.49 547.30,196.42 546.30,196.75 545.30,197.17 544.30,197.43 543.30,197.37 542.30,197.34 541.30,197.33 540.30,197.33 539.30,197.56 538.30,197.47 537.30,197.48 536.30,197.48 535.30,197.47 534.30,197.52 533.30,197.36 532.30,197.25 531.30,197.26 530.30,197.53 529.30,197.46 528.30,197.59 527.30,197.79 526.30,197.62 525.30,197.63 524.30,197.70 523.30,197.51 522.30,197.70 521.30,197.76 520.30,197.86 519.30,198.01 518.30,197.81 517.30,197.81 516.30,197.90 515.30,197.84 514.30,197.57 513.30,197.60 512.30,197.58 511.30,197.69 510.30,197.88 509.30,197.85 508.30,197.87 507.30,197.84 506.30,197.81 505.30,197.89 504.30,198.02 503.30,197.90 502.30,197.91 501.30,198.08 500.30,197.83 499.30,197.84 498.30,198.18 497.30,198.24 496.30,198.38 495.30,198.28 494.30,198.13 493.30,198.07 492.30,197.87 491.30,197.43 490.30,197.46 489.30,197.96 488.30,197.97 487.30,197.79 486.30,197.62 485.30,197.68 484.30,197.85 483.30,197.83 482.30,197.94 481.30,197.73 480.30,197.51 479.30,197.77 478.30,197.83 477.30,197.73 476.30,197.57 475.30,197.43 474.30,197.50 473.30,197.68 472.30,197.65 471.30,197.40 470.30,197.43 469.30,197.49 468.30,197.40 467.30,197.35 466.30,197.43 465.30,197.67 464.30,197.60 463.30,197.44 462.30,197.49 461.30,197.50 460.30,197.34 459.30,197.30 458.30,197.54 457.30,197.71 456.30,197.80 455.30,197.66 454.30,197.42 453.30,197.45 452.30,197.49 451.30,197.34 450.30,197.32 449.30,197.52 448.30,197.50 447.30,197.50 446.30,197.68 445.30,197.89 444.30,197.84 443.30,197.69 442.30,197.53 441.30,197.36 440.30,197.63 439.30,197.76 438.30,197.51 437.30,197.43 436.30,197.53 435.30,197.46 434.30,197.79 433.30,197.96 432.30,197.76 431.30,197.82 430.30,197.74 429.30,197.70 428.30,197.71 427.30,197.63 426.30,197.35 425.30,197.63 424.30,197.61 423.30,197.33 422.30,197.56 421.30,197.65 420.30,197.65 419.30,197.62 418.30,197.76 417.30,197.76 416.30,197.71 415.30,197.50 414.30,197.44 413.30,197.77 412.30,197.71 411.30,197.71 410.30,197.83 409.30,197.90 408.30,197.87 407.30,197.82 406.30,197.87 405.30,197.90 404.30,197.93 403.30,197.77 402.30,197.83 401.30,198.11 400.30,198.04 399.30,197.84 398.30,197.75 397.30,197.86 396.30,198.22 395.30,198.50 394.30,198.51 393.30,198.20 392.30,197.99 391.30,198.31 390.30,198.41 389.30,198.51 388.30,198.63 387.30,198.35 386.30,198.23 385.30,198.75 384.30,198.90 383.30,198.73 382.30,198.79 381.30,198.71" fill="#808080"/>
<rect x="614" y="181.2" width="4.7" height="3.6" fill="#808080"/>
<rect x="614" y="189.6" width="4.7" height="3.5" fill="#808080"/>
<path d="M381.30,189.53 L382.30,189.66 L383.30,189.67 L384.30,189.65 L385.30,189.67 L386.30,189.66 L387.30,189.70 L388.30,189.78 L389.30,189.68 L390.30,189.66 L391.30,189.64 L392.30,189.63 L393.30,189.73 L394.30,189.72 L395.30,189.70 L396.30,189.72 L397.30,189.80 L398.30,189.87 L399.30,190.02 L400.30,190.12 L401.30,190.17 L402.30,190.25 L403.30,190.25 L404.30,190.24 L405.30,190.20 L406.30,190.11 L407.30,190.08 L408.30,190.09 L409.30,190.08 L410.30,190.28 L411.30,190.38 L412.30,190.39 L413.30,190.43 L414.30,190.43 L415.30,190.39 L416.30,190.40 L417.30,190.39 L418.30,190.28 L419.30,190.35 L420.30,190.44 L421.30,190.41 L422.30,190.43 L423.30,190.55 L424.30,190.46 L425.30,190.56 L426.30,190.52 L427.30,190.27 L428.30,190.31 L429.30,190.40 L430.30,190.44 L431.30,190.51 L432.30,190.54 L433.30,190.49 L434.30,190.59 L435.30,190.78 L436.30,190.75 L437.30,190.79 L438.30,190.62 L439.30,190.65 L440.30,190.69 L441.30,190.75 L442.30,190.94 L443.30,190.86 L444.30,190.85 L445.30,190.74 L446.30,190.56 L447.30,190.58 L448.30,190.62 L449.30,190.62 L450.30,190.80 L451.30,190.83 L452.30,190.86 L453.30,190.90 L454.30,190.76 L455.30,190.82 L456.30,190.84 L457.30,190.90 L458.30,191.00 L459.30,190.95 L460.30,190.92 L461.30,190.92 L462.30,190.84 L463.30,190.93 L464.30,190.87 L465.30,190.91 L466.30,191.04 L467.30,191.04 L468.30,191.06 L469.30,191.19 L470.30,191.29 L471.30,191.35 L472.30,191.57 L473.30,191.48 L474.30,191.28 L475.30,191.29 L476.30,191.33 L477.30,191.49 L478.30,191.70 L479.30,191.71 L480.30,191.68 L481.30,191.53 L482.30,191.56 L483.30,191.56 L484.30,191.68 L485.30,191.79 L486.30,191.96 L487.30,192.03 L488.30,191.86 L489.30,192.07 L490.30,191.94 L491.30,192.00 L492.30,192.23 L493.30,192.08 L494.30,192.08 L495.30,192.13 L496.30,192.04 L497.30,192.00 L498.30,192.02 L499.30,191.93 L500.30,191.99 L501.30,192.05 L502.30,192.16 L503.30,192.29 L504.30,192.31 L505.30,192.41 L506.30,192.45 L507.30,192.25 L508.30,192.24 L509.30,192.17 L510.30,192.09 L511.30,192.12 L512.30,191.95 L513.30,191.86 L514.30,191.86 L515.30,191.86 L516.30,191.90 L517.30,191.94 L518.30,191.98 L519.30,192.03 L520.30,192.08 L521.30,192.19 L522.30,192.13 L523.30,192.17 L524.30,192.11 L525.30,192.03 L526.30,192.04 L527.30,192.00 L528.30,192.01 L529.30,191.90 L530.30,191.85 L531.30,191.78 L532.30,191.85 L533.30,191.94 L534.30,191.85 L535.30,191.89 L536.30,191.76 L537.30,191.69 L538.30,191.70 L539.30,191.53 L540.30,191.58 L541.30,191.54 L542.30,191.45 L543.30,191.39 L544.30,191.25 L545.30,191.10 L546.30,191.11 L547.30,191.23 L548.30,191.31 L549.30,191.32 L550.30,191.39 L551.30,191.38 L552.30,191.22 L553.30,191.10 L554.30,191.02 L555.30,190.95 L556.30,191.08 L557.30,191.24 L558.30,191.19 L559.30,191.21 L560.30,190.96 L561.30,190.84 L562.30,190.72 L563.30,190.68 L564.30,190.74 L565.30,190.48 L566.30,190.54 L567.30,190.32 L568.30,190.29 L569.30,190.40 L570.30,190.28 L571.30,190.32 L572.30,190.23 L573.30,190.15 L574.30,190.17 L575.30,190.10 L576.30,190.03 L577.30,190.08 L578.30,189.91 L579.30,189.94 L580.30,189.90 L581.30,189.82 L582.30,189.82 L583.30,189.59 L584.30,189.45 L585.30,189.38 L586.30,189.32 L587.30,189.41 L588.30,189.45 L589.30,189.31 L590.30,189.26 L591.30,189.17 L592.30,189.15 L593.30,189.18 L594.30,189.01 L595.30,188.97 L596.30,188.80 L597.30,188.75 L598.30,188.67 L599.30,188.58 L600.30,188.51 L601.30,188.48 L602.30,188.62 L603.30,188.58 L604.30,188.49 L605.30,188.30 L606.30,188.06 L607.30,187.97 L608.30,187.99 L609.30,187.99 L610.30,188.00 L611.30,187.92 L612.30,187.87 L613.30,187.90 L614.30,187.81" fill="none" stroke="#e88a2c" stroke-width="3.4"/>
<line x1="336.2" y1="192" x2="375.8" y2="200.1" stroke="#0b820b" stroke-width="2.4"/>
<line x1="333" y1="198.2" x2="375.8" y2="192" stroke="#e0924c" stroke-width="2.4"/>
<line x1="333" y1="198.2" x2="337.8" y2="197.5" stroke="#808080" stroke-width="2.8"/>
<rect x="320.6" y="203.9" width="1.4" height="1.6" fill="#000"/>
<line x1="340" y1="40.9" x2="374" y2="40.9" stroke="#0b820b" stroke-width="2.3" stroke-linecap="round"/>
<line x1="340" y1="59.2" x2="374" y2="59.2" stroke="#e0924c" stroke-width="2.6" stroke-linecap="round"/>
<text x="378.9" y="46.2" font-size="14" letter-spacing="0.9" fill="#111">WT</text>
<text x="378.5" y="64.4" font-size="13.7" fill="#111">5M</text>
</svg></div></body></html>
